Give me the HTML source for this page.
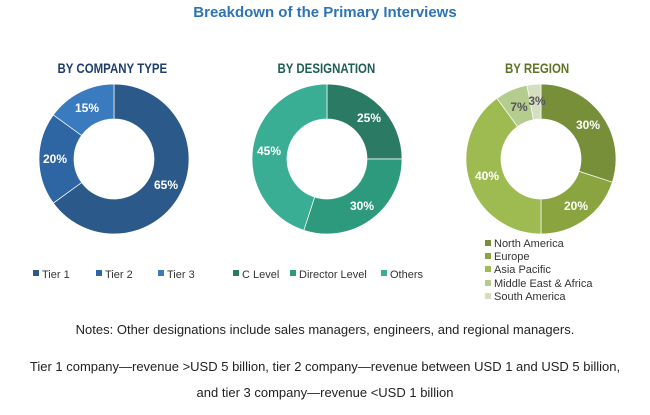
<!DOCTYPE html><html><head><style>body{margin:0;background:#fff;width:650px;height:410px;overflow:hidden}</style></head><body>
<svg width="650" height="410" xmlns="http://www.w3.org/2000/svg" font-family="Liberation Sans, sans-serif">
<text x="325" y="17" text-anchor="middle" font-size="15" font-weight="bold" fill="#2e74b5">Breakdown of the Primary Interviews</text>
<g font-size="14" font-weight="bold" text-anchor="middle" transform="scale(0.82,1)">
<text x="137" y="73" fill="#1f3f6a">BY COMPANY TYPE</text>
<text x="398" y="73" fill="#1f5e52">BY DESIGNATION</text>
<text x="655" y="73" fill="#5f7328">BY REGION</text>
</g>
<g id="donuts"></g>
<g font-size="12" font-weight="bold" fill="#fff" text-anchor="middle">
<text x="87" y="112">15%</text><text x="55" y="163">20%</text><text x="166" y="189">65%</text>
<text x="369" y="122">25%</text><text x="362" y="210">30%</text><text x="269" y="155">45%</text>
<text x="588" y="129">30%</text><text x="576" y="210">20%</text><text x="487" y="180">40%</text>
<text x="519" y="111" fill="#555">7%</text><text x="537" y="105" fill="#555">3%</text>
</g>
<g font-size="11" fill="#333">
<rect x="33" y="270" width="6" height="6" fill="#2b5a8a"/><text x="42" y="278">Tier 1</text>
<rect x="96" y="270" width="6" height="6" fill="#2e65a3"/><text x="105" y="278">Tier 2</text>
<rect x="158" y="270" width="6" height="6" fill="#3a7bc0"/><text x="167" y="278">Tier 3</text>
<rect x="233" y="270" width="6" height="6" fill="#2a7a64"/><text x="242" y="278">C Level</text>
<rect x="290" y="270" width="6" height="6" fill="#2e9a7d"/><text x="299" y="278">Director Level</text>
<rect x="381" y="270" width="6" height="6" fill="#3aae94"/><text x="390" y="278">Others</text>
<rect x="485" y="240" width="6" height="6" fill="#788f3a"/><text x="494" y="247">North America</text>
<rect x="485" y="253" width="6" height="6" fill="#8aa43f"/><text x="494" y="260">Europe</text>
<rect x="485" y="266" width="6" height="6" fill="#9dbb50"/><text x="494" y="273">Asia Pacific</text>
<rect x="485" y="280" width="6" height="6" fill="#b5cc8f"/><text x="494" y="287">Middle East &amp; Africa</text>
<rect x="485" y="293" width="6" height="6" fill="#d3dfc0"/><text x="494" y="300">South America</text>
</g>
<g font-size="13" fill="#222" text-anchor="middle">
<text x="325" y="334">Notes: Other designations include sales managers, engineers, and regional managers.</text>
<text x="325" y="371">Tier 1 company—revenue &gt;USD 5 billion, tier 2 company—revenue between USD 1 and USD 5 billion,</text>
<text x="325" y="397">and tier 3 company—revenue &lt;USD 1 billion</text>
</g>
</svg>
<script>
function arc(cx,cy,R,r,a0,a1,c){var t=a=>[Math.sin(a*2*Math.PI),-Math.cos(a*2*Math.PI)];var p0=t(a0),p1=t(a1),l=(a1-a0)>0.5?1:0;
return '<path fill="'+c+'" stroke="#fff" stroke-width="0.7" d="M'+(cx+R*p0[0])+' '+(cy+R*p0[1])+'A'+R+' '+R+' 0 '+l+' 1 '+(cx+R*p1[0])+' '+(cy+R*p1[1])+'L'+(cx+r*p1[0])+' '+(cy+r*p1[1])+'A'+r+' '+r+' 0 '+l+' 0 '+(cx+r*p0[0])+' '+(cy+r*p0[1])+'Z"/>';}
function donut(cx,cy,d){var s=0,h='';d.forEach(x=>{h+=arc(cx,cy,75,40,s,s+x[0],x[1]);s+=x[0];});return h;}
document.getElementById('donuts').innerHTML=donut(114,159,[[.65,'#2b5a8a'],[.20,'#2e65a3'],[.15,'#3a7bc0']])+donut(327,159,[[.25,'#2a7a64'],[.30,'#2e9a7d'],[.45,'#3aae94']])+donut(541,159,[[.30,'#788f3a'],[.20,'#8aa43f'],[.40,'#9dbb50'],[.07,'#b5cc8f'],[.03,'#d3dfc0']]);
</script>
</body></html>
